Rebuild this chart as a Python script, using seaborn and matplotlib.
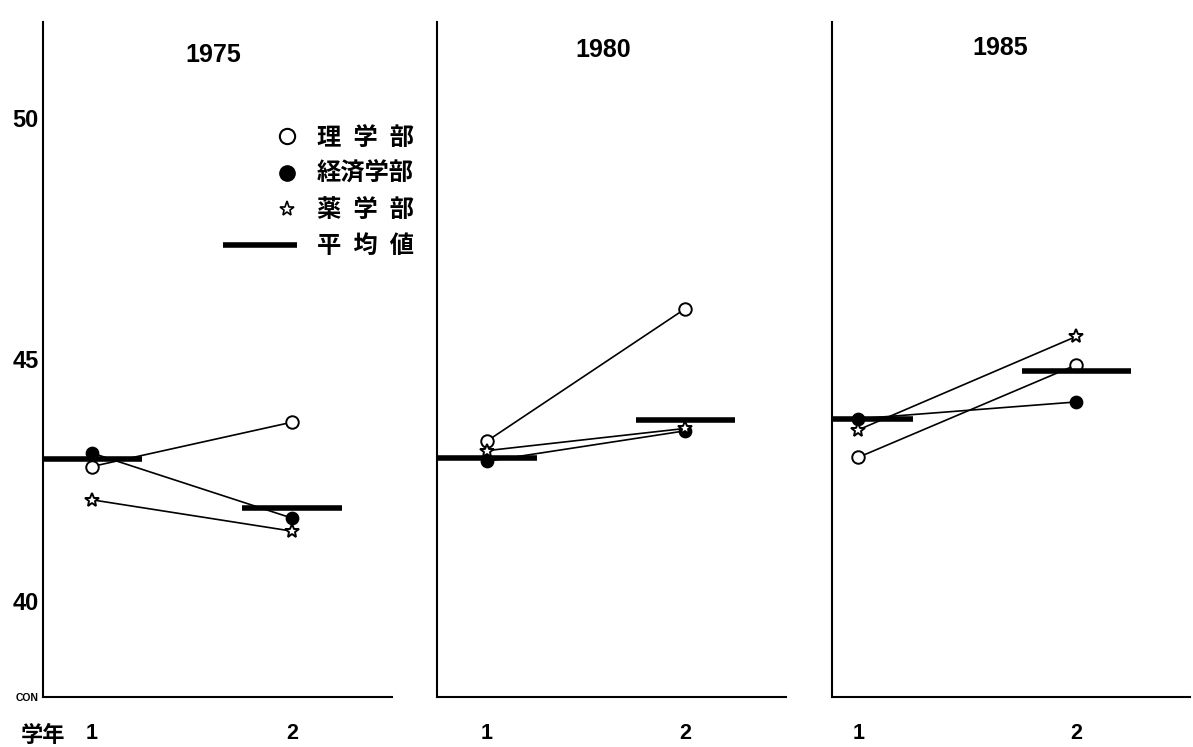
import numpy as np
import pandas as pd
import matplotlib
matplotlib.use("Agg")
import matplotlib.pyplot as plt
import seaborn as sns
from matplotlib.lines import Line2D
from matplotlib.legend_handler import HandlerLine2D

# ---- data -------------------------------------------------------------
years = [1975, 1980, 1985]
grades = [1, 2]
grade_labels = ["1", "2"]
y_ticks = [38, 40, 45, 50]
y_tick_labels = ["CON", "40", "45", "50"]

depts = ["理学部", "経済学部", "薬学部"]

# scores per year (1975, 1980, 1985), first and second year students
rigaku_g1 = [42.78, 43.31, 42.97]
rigaku_g2 = [43.70, 46.05, 44.89]
keizai_g1 = [43.06, 42.89, 43.77]
keizai_g2 = [41.71, 43.52, 44.12]
yaku_g1 = [42.09, 43.11, 43.54]
yaku_g2 = [41.44, 43.57, 45.48]
mean_g1 = [42.93, 42.95, 43.76]
mean_g2 = [41.92, 43.75, 44.77]

legend_labels = ["理\u2002学\u2002部", "経済学部", "薬\u2002学\u2002部", "平\u2002均\u2002値"]

# ---- tidy frames ------------------------------------------------------
rows = []
for dept, g1, g2 in [("理学部", rigaku_g1, rigaku_g2),
                     ("経済学部", keizai_g1, keizai_g2),
                     ("薬学部", yaku_g1, yaku_g2)]:
    for i, yr in enumerate(years):
        rows.append(dict(year=yr, dept=dept, grade=grades[0], score=g1[i]))
        rows.append(dict(year=yr, dept=dept, grade=grades[1], score=g2[i]))
scores = pd.DataFrame(rows)

means = pd.DataFrame(
    [dict(year=yr, grade=grades[0], score=mean_g1[i]) for i, yr in enumerate(years)]
    + [dict(year=yr, grade=grades[1], score=mean_g2[i]) for i, yr in enumerate(years)]
)

# ---- style ------------------------------------------------------------
sns.set_theme(style="white")
NUM_FONT = ["Liberation Sans", "DejaVu Sans"]
CJK_FONT = ["Noto Sans CJK JP", "DejaVu Sans"]
plt.rcParams["font.family"] = NUM_FONT
for key in ["text.color", "axes.labelcolor", "xtick.color", "ytick.color"]:
    plt.rcParams[key] = "black"

marker_styles = {
    "理学部": dict(marker="o", markerfacecolor="white", markersize=9),
    "経済学部": dict(marker="o", markerfacecolor="black", markersize=8.5),
    "薬学部": dict(marker="*", markerfacecolor="white", markersize=10.5),
}

W, H = 1193, 747
fig = plt.figure(figsize=(W / 100, H / 100), dpi=100)
fig.patch.set_facecolor("white")

panel_px = [(43, 349), (437, 349), (832, 358)]   # left edge, width in pixels
xlims = [(0.755, 2.5), (0.747, 2.51), (0.88, 2.52)]
title_pos = [(0.487, 0.951), (0.476, 0.958), (0.47, 0.961)]
bottom_px, height_px = 50, 675
half_bar = 0.25

axes = []
for k, yr in enumerate(years):
    left, width = panel_px[k]
    ax = fig.add_axes([left / W, bottom_px / H, width / W, height_px / H])
    axes.append(ax)
    ax.set_facecolor("white")

    sub = scores[scores["year"] == yr]
    for dept in depts:
        d = sub[sub["dept"] == dept]
        sns.lineplot(data=d, x="grade", y="score", ax=ax, color="black",
                     linewidth=1.2, errorbar=None, legend=False,
                     markeredgecolor="black", markeredgewidth=1.4,
                     zorder=2, **marker_styles[dept])

    m = means[means["year"] == yr]
    ax.hlines(m["score"], m["grade"] - half_bar, m["grade"] + half_bar,
              colors="black", linewidth=4, zorder=3, capstyle="butt")

    ax.set_xlim(*xlims[k])
    ax.set_ylim(38, 52)
    ax.set_xlabel("")
    ax.set_ylabel("")
    ax.set_xticks(grades)
    ax.set_xticklabels(grade_labels, fontsize=15.5, fontweight="bold")
    ax.tick_params(axis="x", length=0, pad=19)
    ax.set_yticks(y_ticks)
    ax.tick_params(axis="y", direction="in", length=11, width=1.3,
                   color="black", pad=3)
    if k == 0:
        ax.set_yticklabels(y_tick_labels, fontsize=17, fontweight="bold")
        ax.get_yticklabels()[0].set_fontsize(7.5)
    else:
        ax.set_yticklabels([])
    ax.yaxis.get_major_ticks()[0].tick1line.set_visible(False)

    for side in ["top", "right"]:
        ax.spines[side].set_visible(False)
    for side in ["left", "bottom"]:
        ax.spines[side].set_color("black")
        ax.spines[side].set_linewidth(1.5)

    ax.text(title_pos[k][0], title_pos[k][1], str(yr), transform=ax.transAxes,
            ha="center", va="center", fontsize=18, fontweight="bold")

# ---- legend -----------------------------------------------------------
class RightMarkerHandler(HandlerLine2D):
    """Marker drawn near the right end of the handle box."""
    def get_xdata(self, legend, xdescent, ydescent, width, height, fontsize):
        c = -xdescent + width * 0.87
        return [c - 1, c + 1], [c]

handles = [
    Line2D([], [], linestyle="none", marker="o", markerfacecolor="white",
           markeredgecolor="black", markeredgewidth=1.5, markersize=11),
    Line2D([], [], linestyle="none", marker="o", markerfacecolor="black",
           markeredgecolor="black", markersize=11),
    Line2D([], [], linestyle="none", marker="*", markerfacecolor="white",
           markeredgecolor="black", markeredgewidth=1.2, markersize=11),
    Line2D([], [], color="black", linewidth=4, solid_capstyle="butt"),
]
hmap = {h: RightMarkerHandler(numpoints=1) for h in handles[:3]}
leg = axes[0].legend(handles, legend_labels, loc="upper left",
                     bbox_to_anchor=(223 / W, 1 - 126 / H),
                     bbox_transform=fig.transFigure, frameon=False,
                     prop=dict(family=CJK_FONT, weight="bold", size=17.5),
                     handlelength=3.05, handletextpad=0.8, labelspacing=0.5,
                     borderpad=0, borderaxespad=0, handler_map=hmap)

fig.text(43 / W, 1 - 735 / H, "学年", ha="center", va="center",
         fontsize=16, fontweight="bold", family=CJK_FONT)

fig.savefig("out.png", dpi=100, facecolor="white")
